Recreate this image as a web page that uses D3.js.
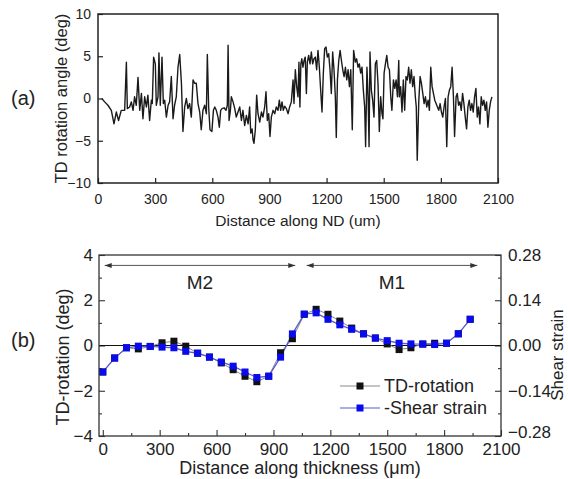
<!DOCTYPE html>
<html>
<head>
<meta charset="utf-8">
<script src="https://cdn.jsdelivr.net/npm/d3@7"></script>
<style>
  body { margin: 0; background: #fff; }
  svg { display: block; font-family: "Liberation Sans", Arial, sans-serif; }
  .tick text { fill: #222; }
</style>
</head>
<body>
<svg id="chart"></svg>
<script>
// panel (a): TD rotation angle along ND
const ndDistance = [20,35,52,70,84,96,108,122,140,149,154,166,175,184,192,201,210,219,228,236,245,254,262,271,280,285,292,301,306,315,320,327,336,343,350,359,368,376,385,394,402,411,420,429,438,446,455,464,472,481,490,499,507,516,525,534,542,551,560,569,574,581,588,598,606,613,621,630,637,644,651,662,672,679,683,688,695,700,709,718,726,735,744,753,761,770,779,788,796,802,809,814,819,826,833,840,849,858,866,875,882,889,896,903,910,919,928,936,945,952,959,966,973,980,989,998,1006,1015,1024,1029,1036,1043,1050,1055,1060,1065,1070,1076,1082,1088,1094,1099,1106,1113,1120,1127,1134,1141,1148,1155,1162,1169,1176,1183,1190,1197,1204,1211,1218,1225,1232,1239,1246,1251,1257,1264,1271,1278,1285,1292,1299,1306,1313,1320,1327,1335,1342,1351,1358,1365,1372,1379,1386,1393,1400,1405,1412,1418,1423,1428,1435,1442,1449,1456,1463,1470,1477,1484,1491,1496,1502,1509,1516,1523,1530,1537,1543,1551,1558,1565,1572,1579,1582,1589,1596,1603,1610,1617,1624,1631,1638,1645,1652,1659,1666,1671,1676,1684,1691,1698,1705,1712,1719,1726,1733,1740,1747,1754,1761,1768,1775,1782,1789,1796,1803,1810,1817,1824,1831,1838,1845,1852,1859,1866,1872,1880,1886,1893,1900,1907,1914,1921,1928,1935,1942,1949,1956,1963,1970,1977,1984,1991,1998,2005,2012,2019,2026,2033,2040,2047,2054,2061,2068];
const tdAngle = [0,-0.4,-0.8,-1.4,-3.0,-1.6,-2.6,-1.4,-1.4,4.3,-1.2,-1.0,-0.4,-1.4,0.2,-0.8,2.5,-1.4,0.6,-2.4,0.2,-1.0,0.4,-2.6,-0.2,-0.6,4.9,4.1,-0.8,0.2,5.4,-0.8,4.9,-0.6,-0.2,-2.2,-0.8,-0.4,2.6,-2.4,-0.8,0.2,3.7,5.2,1.8,-3.9,-1.0,0,-1.2,-0.6,-2.2,2.2,1.8,1.8,-0.6,-1.6,-3.7,-1.4,-0.8,-1.8,5.2,-1.0,-3.7,-3.9,-1.4,-1.0,-1.4,-2.2,-3.4,-1.4,-1.2,-1.1,-1.4,-0.8,6.3,-2.6,-1.4,0.2,-0.4,-1.2,-2.2,-1.6,-1.0,-2.6,-1.4,-3.2,-2.0,-3.0,-1.0,-4.1,-3.6,-4.9,-5.3,-3.7,0.4,-1.8,-2.8,-1.6,-2.2,-1.0,0.8,-2.6,-1.8,-4.5,-2.2,-1.4,-1.8,-1.0,-1.4,-0.2,-1.4,-0.4,-1.4,-0.9,-1.2,-1.8,-1.0,-0.4,2.2,-0.6,3.4,1.4,0.2,4.3,-1.0,4.1,4.7,3.7,4.5,4.9,0.6,4.3,5.1,4.1,5.5,4.1,4.7,4.9,3.4,5.7,3.7,1.0,-1.6,3.0,5.9,6.1,4.9,5.3,3.4,0.6,5.5,3.4,0.2,-4.6,2.2,4.5,5.7,4.5,3.4,2.6,3.7,2.2,3.4,1.4,3.4,-3.7,5.7,4.3,4.7,3.7,4.1,3.0,3.7,1.0,-1.0,-5.7,3.7,0.2,-5.7,5.5,1.0,-0.2,-2.2,4.1,4.5,1.8,-3.9,0.2,-1.8,-2.4,3.0,4.1,5.1,3.7,3.4,0.2,-1.4,2.2,1.2,2.2,0.2,4.5,0.2,1.4,-1.6,2.2,-1.4,2.6,2.2,3.7,1.8,3.4,1.4,2.6,0.2,-1.0,-7.3,-0.4,2.6,1.8,0.6,-0.6,0.2,-1.0,-0.2,-1.4,3.7,1.4,0.6,-0.2,-0.6,-1.0,-1.4,-0.6,-1.6,-2.2,-1.0,0,-5.7,0.2,1.0,1.4,3.7,0.2,-4.5,0.2,0.6,-0.8,-0.4,-1.4,0.6,-0.6,-2.2,-3.6,-1.0,-0.2,-1.4,-0.6,-1.6,0.2,1.2,-2.2,-1.0,-3.0,0.2,-0.8,-0.2,-1.4,-0.4,-3.4,-1.4,-0.4,0.2];
const topXTicks = [0,300,600,900,1200,1500,1800,2100];
const topYTicks = [-10,-5,0,5,10];

// panel (b): TD rotation and shear strain along thickness
const thickness = [0,62.5,125,187.5,250,312.5,375,437.5,500,562.5,625,687.5,750,812.5,875,937.5,1000,1062.5,1125,1187.5,1250,1312.5,1375,1437.5,1500,1562.5,1625,1687.5,1750,1812.5,1875,1937.5];
const tdRotation = [-1.17,-0.55,-0.10,-0.15,-0.04,0.12,0.19,-0.03,-0.34,-0.51,-0.77,-1.07,-1.36,-1.60,-1.36,-0.32,0.30,1.38,1.60,1.38,1.08,0.77,0.52,0.33,0.07,-0.18,-0.10,0.07,0.10,0.10,0.52,1.16];
const negShearStrain = [-0.082,-0.039,-0.007,-0.002,-0.003,-0.005,-0.007,-0.018,-0.024,-0.036,-0.051,-0.064,-0.082,-0.099,-0.095,-0.036,0.036,0.097,0.101,0.081,0.064,0.050,0.036,0.023,0.015,0.007,0.005,0.004,0.003,0.007,0.036,0.081];
const bottomXTicks = [0,300,600,900,1200,1500,1800,2100];
const bottomXMinor = [150,450,750,1050,1350,1650,1950];
const leftTicks = [-4,-2,0,2,4];
const leftMinor = [-3,-1,1,3];
const rightTicks = [-0.28,-0.14,0,0.14,0.28];
const rightMinor = [-0.21,-0.07,0.07,0.21];
const zoneNames = ['M2','M1'];
const zoneFrom = [10,1075];
const zoneTo = [1015,1975];

const W = 568, H = 479;
const svg = d3.select('#chart').attr('width', W).attr('height', H);

// ---------- panel (a) ----------
const a = {left: 98, right: 498, top: 14, bottom: 183};
const xa = d3.scaleLinear().domain([0, 2100]).range([a.left, a.right]);
const ya = d3.scaleLinear().domain([-10, 10]).range([a.bottom, a.top]);

svg.append('g')
  .attr('transform', `translate(0,${a.bottom})`)
  .call(d3.axisBottom(xa).tickValues(topXTicks).tickSize(-5).tickPadding(11).tickFormat(d3.format('d')))
  .call(g => g.select('.domain').remove())
  .call(g => g.selectAll('line').attr('stroke', '#222').attr('stroke-width', 1.2))
  .call(g => g.selectAll('text').style('font-size', '14px'));

svg.append('g')
  .attr('transform', `translate(${a.left},0)`)
  .call(d3.axisLeft(ya).tickValues(topYTicks).tickSize(-5).tickPadding(7))
  .call(g => g.select('.domain').remove())
  .call(g => g.selectAll('line').attr('stroke', '#222').attr('stroke-width', 1.2))
  .call(g => g.selectAll('text').style('font-size', '14px'));

const lineA = d3.line().x((d, i) => xa(ndDistance[i])).y(d => ya(d));
svg.append('path')
  .datum(tdAngle)
  .attr('d', lineA)
  .attr('fill', 'none')
  .attr('stroke', '#1a1a1a')
  .attr('stroke-width', 1.4)
  .attr('stroke-linejoin', 'round');

svg.append('rect')
  .attr('x', a.left).attr('y', a.top)
  .attr('width', a.right - a.left).attr('height', a.bottom - a.top)
  .attr('fill', 'none').attr('stroke', '#222').attr('stroke-width', 1.5);

svg.append('text')
  .attr('x', (a.left + a.right) / 2).attr('y', 226)
  .attr('text-anchor', 'middle').style('font-size', '15.5px').attr('fill', '#222')
  .text('Distance along ND (um)');

svg.append('text')
  .attr('transform', `translate(67,${(a.top + a.bottom) / 2}) rotate(-90)`)
  .attr('text-anchor', 'middle').style('font-size', '16.5px').attr('fill', '#222')
  .text('TD rotation angle (deg)');

svg.append('text')
  .attr('x', 11).attr('y', 105)
  .style('font-size', '20px').attr('fill', '#222')
  .text('(a)');

// ---------- panel (b) ----------
const b = {left: 99, right: 501, top: 255, bottom: 436};
const xb = d3.scaleLinear().domain([-20, 2100]).range([b.left, b.right]);
const yb = d3.scaleLinear().domain([-4, 4]).range([b.bottom, b.top]);
const yb2 = d3.scaleLinear().domain([-0.28, 0.28]).range([b.bottom, b.top]);

const axisStyle = (g, size) => g
  .call(g => g.select('.domain').remove())
  .call(g => g.selectAll('line').attr('stroke', '#333').attr('stroke-width', 1.1))
  .call(g => g.selectAll('text').style('font-size', size).attr('fill', '#222'));

svg.append('g')
  .attr('transform', `translate(0,${b.bottom})`)
  .call(d3.axisBottom(xb).tickValues(bottomXTicks).tickSize(-6).tickPadding(7).tickFormat(d3.format('d')))
  .call(g => axisStyle(g, '17px'));
svg.append('g')
  .attr('transform', `translate(0,${b.bottom})`)
  .call(d3.axisBottom(xb).tickValues(bottomXMinor).tickSize(-3).tickFormat(''))
  .call(g => axisStyle(g, '17px'));

svg.append('g')
  .attr('transform', `translate(${b.left},0)`)
  .call(d3.axisLeft(yb).tickValues(leftTicks).tickSize(-6).tickPadding(6).tickFormat(d3.format('d')))
  .call(g => axisStyle(g, '17px'));
svg.append('g')
  .attr('transform', `translate(${b.left},0)`)
  .call(d3.axisLeft(yb).tickValues(leftMinor).tickSize(-3).tickFormat(''))
  .call(g => axisStyle(g, '17px'));

svg.append('g')
  .attr('transform', `translate(${b.right},0)`)
  .call(d3.axisRight(yb2).tickValues(rightTicks).tickSize(-6).tickPadding(7).tickFormat(d3.format('.2f')))
  .call(g => axisStyle(g, '17px'))
  // lowest label sits a little higher, as in the original figure
  .call(g => g.selectAll('.tick text').filter(d => d === -0.28).attr('y', -4));
svg.append('g')
  .attr('transform', `translate(${b.right},0)`)
  .call(d3.axisRight(yb2).tickValues(rightMinor).tickSize(-3).tickFormat(''))
  .call(g => axisStyle(g, '17px'));

// zero line
svg.append('line')
  .attr('x1', b.left).attr('x2', b.right)
  .attr('y1', yb(0)).attr('y2', yb(0))
  .attr('stroke', '#111').attr('stroke-width', 1.2);

// zone arrows
const arrowY = yb(3.54);
const head = (x, dir) => `M${x},${arrowY} L${x + dir * 7},${arrowY - 2.5} L${x + dir * 7},${arrowY + 2.5} Z`;
zoneNames.forEach((name, i) => {
  const x1 = xb(zoneFrom[i]), x2 = xb(zoneTo[i]);
  svg.append('line')
    .attr('x1', x1).attr('x2', x2).attr('y1', arrowY).attr('y2', arrowY)
    .attr('stroke', '#555').attr('stroke-width', 1);
  svg.append('path').attr('d', head(x1, 1)).attr('fill', '#333');
  svg.append('path').attr('d', head(x2, -1)).attr('fill', '#333');
  svg.append('text')
    .attr('x', (x1 + x2) / 2).attr('y', yb(2.8)).attr('dy', '0.35em')
    .attr('text-anchor', 'middle').style('font-size', '19px').attr('fill', '#222')
    .text(name);
});

// series
const lineTd = d3.line().x((d, i) => xb(thickness[i])).y(d => yb(d));
const lineSs = d3.line().x((d, i) => xb(thickness[i])).y(d => yb2(d));

svg.append('path').datum(tdRotation).attr('d', lineTd)
  .attr('fill', 'none').attr('stroke', '#8a8a8a').attr('stroke-width', 1);
svg.append('path').datum(negShearStrain).attr('d', lineSs)
  .attr('fill', 'none').attr('stroke', '#5a5ad0').attr('stroke-width', 1.3);

const sq = 7;
svg.append('g').selectAll('rect').data(tdRotation).join('rect')
  .attr('x', (d, i) => xb(thickness[i]) - sq / 2)
  .attr('y', d => yb(d) - sq / 2)
  .attr('width', sq).attr('height', sq)
  .attr('fill', '#111');
svg.append('g').selectAll('rect').data(negShearStrain).join('rect')
  .attr('x', (d, i) => xb(thickness[i]) - sq / 2)
  .attr('y', d => yb2(d) - sq / 2)
  .attr('width', sq).attr('height', sq)
  .attr('fill', '#0a0aee');

// legend
const legend = [
  {label: 'TD-rotation', line: '#8a8a8a', fill: '#111', y: 386},
  {label: '-Shear strain', line: '#5a5ad0', fill: '#0a0aee', y: 408}
];
legend.forEach(l => {
  svg.append('line').attr('x1', 340).attr('x2', 380).attr('y1', l.y).attr('y2', l.y)
    .attr('stroke', l.line).attr('stroke-width', 1.2);
  svg.append('rect').attr('x', 360 - sq / 2).attr('y', l.y - sq / 2)
    .attr('width', sq).attr('height', sq).attr('fill', l.fill);
  svg.append('text').attr('x', 384).attr('y', l.y).attr('dy', '0.35em')
    .style('font-size', '18px').attr('fill', '#222').text(l.label);
});

svg.append('rect')
  .attr('x', b.left).attr('y', b.top)
  .attr('width', b.right - b.left).attr('height', b.bottom - b.top)
  .attr('fill', 'none').attr('stroke', '#333').attr('stroke-width', 1.3);

svg.append('text')
  .attr('x', 300).attr('y', 474)
  .attr('text-anchor', 'middle').style('font-size', '18px').attr('fill', '#222')
  .text('Distance along thickness (μm)');

svg.append('text')
  .attr('transform', `translate(69,357) rotate(-90)`)
  .attr('text-anchor', 'middle').style('font-size', '18px').attr('fill', '#222')
  .text('TD-rotation (deg)');

svg.append('text')
  .attr('transform', `translate(563,355) rotate(-90)`)
  .attr('text-anchor', 'middle').style('font-size', '17px').attr('fill', '#222')
  .text('Shear strain');

svg.append('text')
  .attr('x', 11).attr('y', 347)
  .style('font-size', '20px').attr('fill', '#222')
  .text('(b)');
</script>
</body>
</html>
